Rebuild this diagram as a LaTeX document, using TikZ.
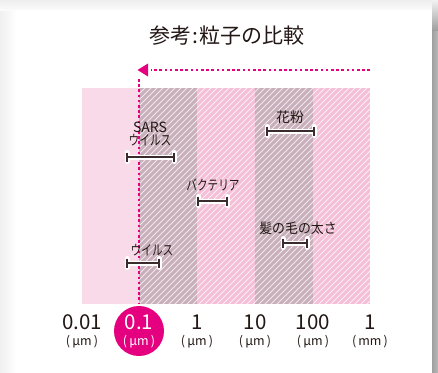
\documentclass[tikz,border=0pt]{standalone}
\usepackage{fontspec}
\setmainfont{Noto Sans CJK JP}
\usepackage{graphicx}
\definecolor{mag}{HTML}{E4007F}
\definecolor{lpink}{HTML}{F9DAE8}
\definecolor{mauve}{HTML}{C8AFBB}
\definecolor{bpink}{HTML}{F5BFD7}
\definecolor{bar}{HTML}{3A2C2C}
\definecolor{txt}{HTML}{231815}
\tikzset{
  lbl/.style={text=txt, font=\fontsize{14}{14}\selectfont, inner sep=0pt, align=center},
  barhalo/.style={white, line width=5pt, line cap=round},
  barline/.style={bar, line width=2.4pt},
  num/.style={text=txt, font=\fontsize{20.5}{20}\selectfont, inner sep=0pt},
  unit/.style={text=txt, font=\fontsize{12.5}{12}\selectfont, inner sep=0pt},
  dotline/.style={mag, line width=2.6pt, dash pattern=on 2.6pt off 2.6pt},
  hatch/.style={white, line width=0.9pt, opacity=0.75}
}
\newcommand{\kata}[1]{\scalebox{0.76}[1]{#1}}
\newcommand{\sizebar}[3]{% x1 x2 y
  \draw[barhalo] (#1,#3) -- (#2,#3);
  \draw[barhalo] (#1,#3-4.5) -- (#1,#3+4.5);
  \draw[barhalo] (#2,#3-4.5) -- (#2,#3+4.5);
  \draw[barline] (#1,#3) -- (#2,#3);
  \draw[barline] (#1,#3-4.5) -- (#1,#3+4.5);
  \draw[barline] (#2,#3-4.5) -- (#2,#3+4.5);
}
\begin{document}
\begin{tikzpicture}[x=1pt,y=-1pt]
\useasboundingbox (0,0) rectangle (438,372);
% backdrop and card shadow
\fill[white] (0,0) rectangle (438,372);
\shade[left color=gray!12, right color=white] (0,0) rectangle (16,372);
\shade[top color=gray!14, bottom color=white!97!gray] (0,0) rectangle (438,10);
\shade[left color=gray!75, right color=gray!55] (432,0) rectangle (438,372);
\shade[top color=gray!10, bottom color=gray!75] (432,0) rectangle (438,30);
\fill[white] (16,10) rectangle (432,372);
% title
\node[text=txt, font=\fontsize{21}{21}\selectfont, inner sep=0pt] (title) at (227,36) {参考\hspace{1pt}:\hspace{1pt}粒子の比較};
% bands
\fill[lpink] (82,88) rectangle (139,304);
\fill[mauve] (139,88) rectangle (197,304);
\fill[bpink] (197,88) rectangle (255,304);
\fill[mauve] (255,88) rectangle (313,304);
\fill[bpink] (313,88) rectangle (370,304);
\begin{scope}
  \clip (139,88) rectangle (370,304);
  \foreach \i in {0,...,78} {
    \draw[hatch] ({139-216+\i*6},304) -- ++(216,-216);
  }
\end{scope}
% dotted pointer
\coordinate (hstart) at (370,70);
\coordinate (hend) at (151,70);
\coordinate (vstart) at (139,79);
\coordinate (vend) at (139,304);
\draw[dotline] (hstart) -- (hend);
\fill[mag] (137.5,70) -- (148,63.5) -- (148,76.5) -- cycle;
\draw[dotline] (vstart) -- (vend);
% size bars with labels
\node[lbl] (sars) at (150,134) {SARS\\[-1.5pt]\kata{ウイルス}};
\sizebar{127}{174}{157}
\node[lbl] (virus) at (152,250) {\kata{ウイルス}};
\sizebar{127}{159}{263}
\node[lbl] (bact) at (213,185) {\kata{バクテリア}};
\sizebar{198}{227}{201}
\node[lbl] (pollen) at (290,117) {花粉};
\sizebar{267}{314}{131}
\node[lbl] (hair) at (298,228) {\scalebox{0.92}[1]{髪の毛の太さ}};
\sizebar{283}{307}{243}
% scale
\node[circle, fill=mag, minimum size=50pt, inner sep=0pt] (hl) at (139,331) {};
\node[num] (n1) at (82,322) {0.01};
\node[unit] (u1) at (82,342) {(\,μm\,)};
\node[num, text=white] (n2) at (139,322) {0.1};
\node[unit, text=white] (u2) at (139,342) {(\,μm\,)};
\node[num] (n3) at (197,322) {1};
\node[unit] (u3) at (197,342) {(\,μm\,)};
\node[num] (n4) at (255,322) {10};
\node[unit] (u4) at (255,342) {(\,μm\,)};
\node[num] (n5) at (313,322) {100};
\node[unit] (u5) at (313,342) {(\,μm\,)};
\node[num] (n6) at (370,322) {1};
\node[unit] (u6) at (370,342) {(\,mm\,)};
\end{tikzpicture}
\end{document}
